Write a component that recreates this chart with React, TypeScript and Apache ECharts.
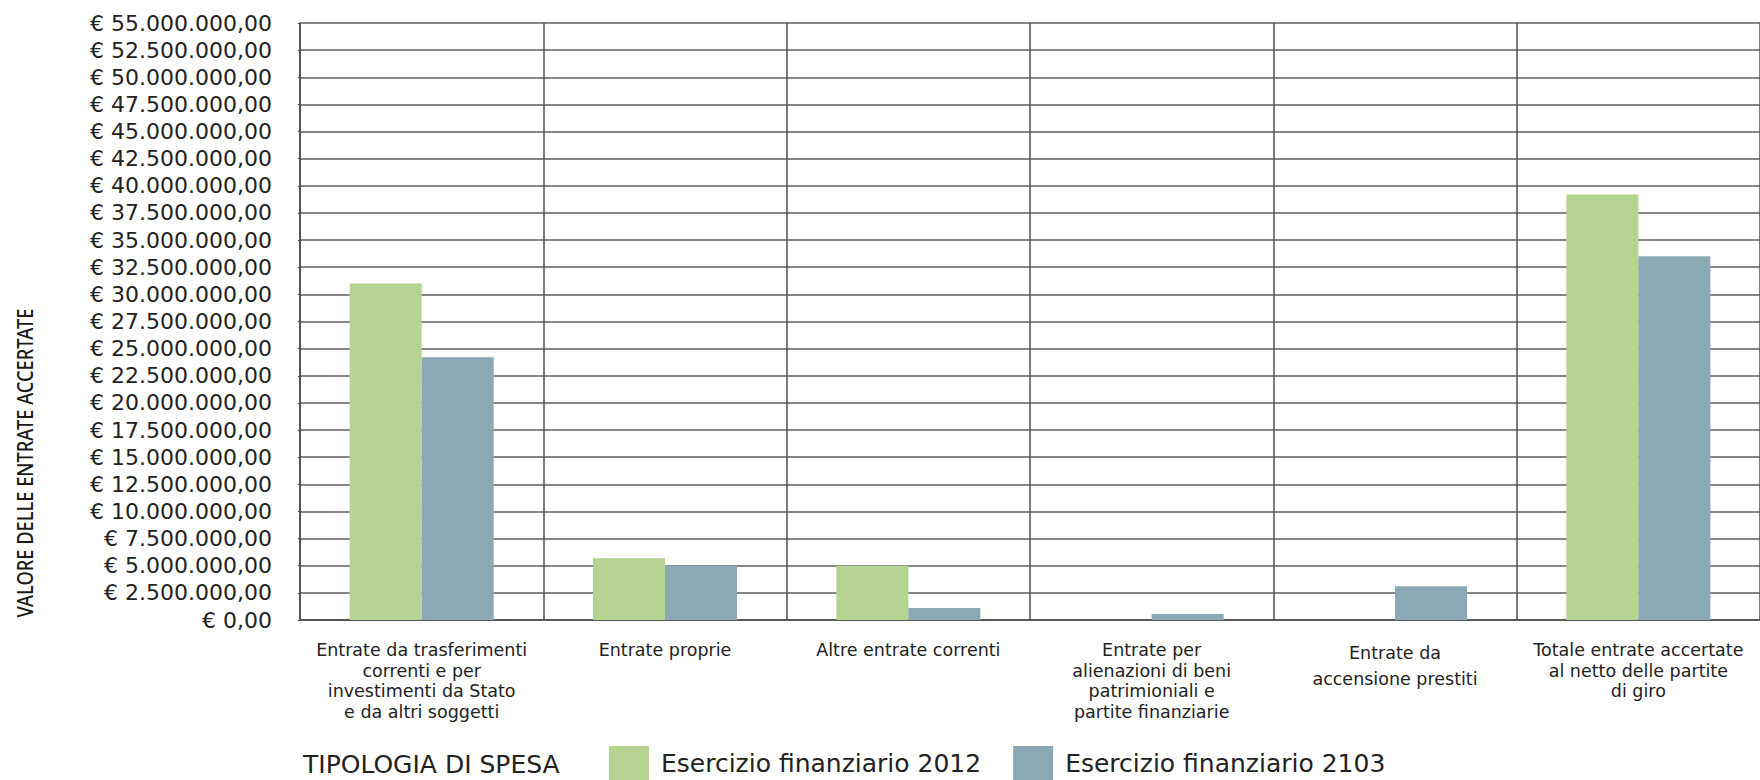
import React, { useEffect, useRef } from "react";
import * as echarts from "echarts";

// Revenue categories (line breaks as printed under each group)
const categories = [
  "Entrate da trasferimenti\ncorrenti e per\ninvestimenti da Stato\ne da altri soggetti",
  "Entrate proprie",
  "Altre entrate correnti",
  "Entrate per\nalienazioni di beni\npatrimioniali e\npartite finanziarie",
  "Entrate da\naccensione prestiti",
  "Totale entrate accertate\nal netto delle partite\ndi giro",
];

const seriesNames = ["Esercizio finanziario 2012", "Esercizio finanziario 2103"];

// Accertamenti in euro
const values2012 = [31000000, 5700000, 5000000, 0, 0, 39200000];
const values2013 = [24200000, 5000000, 1100000, 550000, 3100000, 33500000];

const yMin = 0;
const yMax = 55000000;
const yStep = 2500000;

const axisTitle = "VALORE DELLE ENTRATE ACCERTATE";
const legendTitle = "TIPOLOGIA DI SPESA";

const FONT = "'DejaVu Sans', 'Noto Sans', sans-serif";
const TITLE_FONT = "'Noto Sans', 'Open Sans', sans-serif";

// "€ 55.000.000,00" style formatting
function euro(v: number): string {
  const fixed = Math.abs(v).toFixed(2);
  const [intPart, dec] = fixed.split(".");
  const grouped = intPart.replace(/\B(?=(\d{3})+(?!\d))/g, ".");
  return "€ " + grouped + "," + dec;
}

export default function App() {
  const ref = useRef<HTMLDivElement>(null);

  useEffect(() => {
    if (!ref.current) return;
    const chart = echarts.init(ref.current, undefined, { renderer: "svg" });

    chart.setOption({
      animation: false,
      backgroundColor: "#ffffff",
      textStyle: { fontFamily: FONT },
      color: ["#b5d491", "#8ba8b5"],
      grid: { left: 300, top: 23, width: 1462, bottom: 160, containLabel: false },
      legend: {
        left: 604,
        top: 741,
        icon: "rect",
        itemWidth: 40,
        itemHeight: 35,
        itemGap: 32,
        data: seriesNames,
        textStyle: {
          fontFamily: FONT,
          fontSize: 25,
          color: "#222",
          padding: [10, 0, 0, 7],
        },
      },
      xAxis: {
        type: "category",
        data: categories,
        boundaryGap: true,
        axisLine: { show: true, lineStyle: { color: "#4a4a4a", width: 1.5 } },
        axisTick: { show: false },
        splitLine: { show: true, lineStyle: { color: "#4f4f4f", width: 1.5 } },
        axisLabel: {
          interval: 0,
          margin: 20,
          fontFamily: FONT,
          fontSize: 17.5,
          lineHeight: 20.5,
          color: "#222",
          align: "center",
          formatter: (value: string, index: number) =>
            index === 4
              ? value
                  .split("\n")
                  .map((l) => `{wide|${l}}`)
                  .join("\n")
              : value,
          rich: {
            wide: { fontFamily: FONT, fontSize: 17.5, lineHeight: 26, color: "#222" },
          },
        },
      },
      yAxis: {
        type: "value",
        min: yMin,
        max: yMax,
        interval: yStep,
        axisLine: { show: true, lineStyle: { color: "#4a4a4a", width: 1.5 } },
        axisTick: { show: true, length: 2, lineStyle: { color: "#4a4a4a" } },
        splitLine: { show: true, lineStyle: { color: "#5e5e5e", width: 1.5 } },
        axisLabel: {
          margin: 28,
          fontFamily: FONT,
          fontSize: 22,
          color: "#222",
          formatter: (v: number) => euro(v),
        },
      },
      series: [
        {
          name: seriesNames[0],
          type: "bar",
          data: values2012,
          barWidth: 72,
          barGap: "0%",
        },
        {
          name: seriesNames[1],
          type: "bar",
          data: values2013,
          barWidth: 72,
          barGap: "0%",
        },
      ],
      graphic: [
        {
          type: "text",
          x: 25,
          y: 463,
          rotation: Math.PI / 2,
          scaleX: 0.87,
          style: {
            text: axisTitle,
            fontFamily: TITLE_FONT,
            fontSize: 21,
            fontWeight: 500,
            fill: "#1a1a1a",
            align: "center",
            verticalAlign: "middle",
          },
        },
        {
          type: "text",
          x: 303,
          y: 764,
          style: {
            text: legendTitle,
            fontFamily: FONT,
            fontSize: 25,
            fill: "#222",
            align: "left",
            verticalAlign: "middle",
          },
        },
      ],
    });

    return () => chart.dispose();
  }, []);

  return (
    <div
      ref={ref}
      style={{ position: "fixed", left: 0, top: 0, width: 1760, height: 780 }}
    />
  );
}
